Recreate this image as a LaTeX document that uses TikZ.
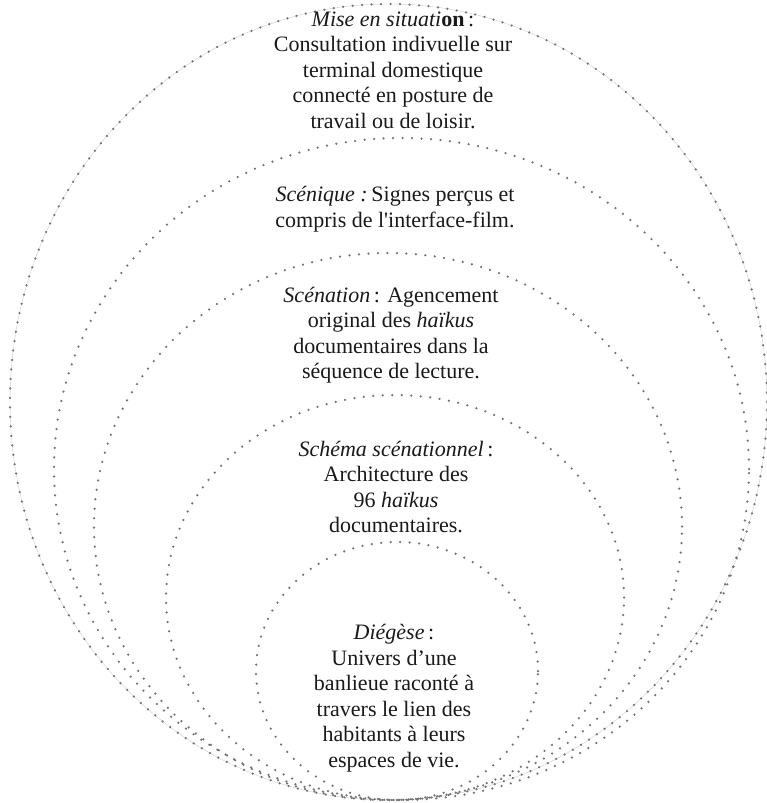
\documentclass[tikz,border=0pt]{standalone}
\usepackage{fontspec}
\setmainfont{Liberation Serif}[Ligatures=TeXOff]
\begin{document}
\begin{tikzpicture}[x=1pt,y=-1pt,
  ring/.style={draw=black!55, line width=2.5pt, line cap=round, dash pattern=on 0pt off 9.5pt},
  faint/.style={draw=black!20, line width=0.4pt},
  label/.style={align=center, inner sep=0pt, text=black!90, font=\fontsize{22}{25.5}\selectfont}]
\useasboundingbox (0,0) rectangle (767,803);
% nested ellipses, all tangent at the bottom
\draw[faint] (388.5,402) ellipse [x radius=378.5pt, y radius=398pt];
\draw[ring] (388.5,402) ellipse [x radius=378.5pt, y radius=398pt];
\draw[ring] (401.5,469) ellipse [x radius=347.5pt, y radius=331pt];
\draw[ring] (388,526.5) ellipse [x radius=294pt, y radius=273.5pt];
\draw[ring] (395,597.5) ellipse [x radius=229pt, y radius=202.5pt];
\draw[ring] (397,671) ellipse [x radius=141pt, y radius=129pt];
% texts
\node[label] (t1) at (393,70) {\textit{Mise en situati}\textbf{on}\,:\\Consultation indivuelle sur\\terminal domestique\\connecté en posture de\\travail ou de loisir.};
\node[label] (t2) at (395,209) {\textit{Scénique :}\,Signes perçus et\\compris de l'interface-film.};
\node[label] (t3) at (391,335) {\textit{Scénation}\,: Agencement\\original des \textit{haïkus}\\documentaires dans la\\séquence de lecture.};
\node[label] (t4) at (396,487) {\textit{Schéma scénationnel}\,:\\Architecture des\\96 \textit{haïkus}\\documentaires.};
\node[label] (t5) at (394,698) {\textit{Diégèse}\,:\\Univers d’une\\banlieue raconté à\\travers le lien des\\habitants à leurs\\espaces de vie.};
\end{tikzpicture}
\end{document}
